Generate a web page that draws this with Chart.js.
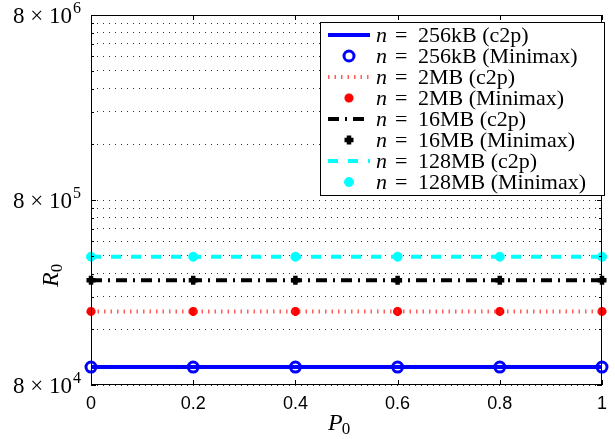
<!DOCTYPE html>
<html>
<head>
<meta charset="utf-8">
<script src="https://cdn.jsdelivr.net/npm/chart.js@4"></script>
<style>
  body { margin: 0; background: #fff; }
  #wrap { width: 615px; height: 439px; }
</style>
</head>
<body>
<div id="wrap"><canvas id="chart"></canvas></div>
<script>
// Data
const pValues = [0, 0.2, 0.4, 0.6, 0.8, 1];
const c2p256kB = [1.0e5, 1.0e5, 1.0e5, 1.0e5, 1.0e5, 1.0e5];
const minimax256kB = [1.0e5, 1.0e5, 1.0e5, 1.0e5, 1.0e5, 1.0e5];
const c2p2MB = [2.0e5, 2.0e5, 2.0e5, 2.0e5, 2.0e5, 2.0e5];
const minimax2MB = [2.0e5, 2.0e5, 2.0e5, 2.0e5, 2.0e5, 2.0e5];
const c2p16MB = [2.95e5, 2.95e5, 2.95e5, 2.95e5, 2.95e5, 2.95e5];
const minimax16MB = [2.95e5, 2.95e5, 2.95e5, 2.95e5, 2.95e5, 2.95e5];
const c2p128MB = [3.95e5, 3.95e5, 3.95e5, 3.95e5, 3.95e5, 3.95e5];
const minimax128MB = [3.95e5, 3.95e5, 3.95e5, 3.95e5, 3.95e5, 3.95e5];

const seriesLabels = ['256kB (c2p)', '256kB (Minimax)', '2MB (c2p)', '2MB (Minimax)',
                      '16MB (c2p)', '16MB (Minimax)', '128MB (c2p)', '128MB (Minimax)'];

// Axis ticks
const xTickValues = [0, 0.2, 0.4, 0.6, 0.8, 1];
const xTickLabels = ['0', '0.2', '0.4', '0.6', '0.8', '1'];
const yGridValues = [8e4, 1.6e5, 2.4e5, 3.2e5, 4e5, 4.8e5, 5.6e5, 6.4e5, 7.2e5,
                     8e5, 1.6e6, 2.4e6, 3.2e6, 4e6, 4.8e6, 5.6e6, 6.4e6, 7.2e6, 8e6];
const yLabelValues = [8e4, 8e5, 8e6];
const yLabelExponents = ['4', '5', '6'];

const SERIF = '"Liberation Serif", "DejaVu Serif", serif';
const SANS = '"Liberation Sans", Arial, sans-serif';

function points(ys) {
    return pValues.map((p, i) => ({ x: p, y: ys[i] }));
}

function lineSet(label, ys, color, width, dash) {
    return {
        label: label, data: points(ys), borderColor: color, backgroundColor: color,
        borderWidth: width, borderDash: dash, pointRadius: 0, showLine: true, clip: false
    };
}

function markSet(label, ys, style, color, fill, radius, width) {
    return {
        label: label, data: points(ys), showLine: false, pointStyle: style,
        pointRadius: radius, pointBorderWidth: width, pointBorderColor: color,
        pointBackgroundColor: fill, borderColor: color, backgroundColor: fill, clip: false
    };
}

const datasets = [
    lineSet(seriesLabels[0], c2p256kB, '#0000ff', 4, []),
    markSet(seriesLabels[1], minimax256kB, 'circle', '#0000ff', 'rgba(0,0,0,0)', 5, 3),
    lineSet(seriesLabels[2], c2p2MB, 'rgba(255,40,40,0.75)', 4, [1.5, 5]),
    markSet(seriesLabels[3], minimax2MB, 'star', '#ff0000', '#ff0000', 4.5, 3),
    lineSet(seriesLabels[4], c2p16MB, '#000000', 4, [11, 6, 2, 6]),
    markSet(seriesLabels[5], minimax16MB, 'cross', '#000000', '#000000', 4.5, 4.5),
    lineSet(seriesLabels[6], c2p128MB, '#00ffff', 4, [10, 10]),
    markSet(seriesLabels[7], minimax128MB, 'circle', '#00ffff', '#00ffff', 4.5, 1)
];

// Frame, inside tick marks, log tick labels, axis titles and legend
const decorations = {
    id: 'decorations',
    afterDraw(chart) {
        const ctx = chart.ctx;
        const a = chart.chartArea;
        const xs = chart.scales.x, ys = chart.scales.y;
        ctx.save();

        // frame
        ctx.strokeStyle = '#000';
        ctx.lineWidth = 1;
        ctx.setLineDash([]);
        ctx.strokeRect(a.left + 0.5, a.top + 0.5, a.right - a.left - 1, a.bottom - a.top - 1);

        // tick marks pointing inwards
        ctx.beginPath();
        xTickValues.forEach(v => {
            const px = Math.round(xs.getPixelForValue(v)) + 0.5;
            ctx.moveTo(px, a.bottom); ctx.lineTo(px, a.bottom - 5);
            ctx.moveTo(px, a.top); ctx.lineTo(px, a.top + 5);
        });
        yGridValues.forEach(v => {
            const py = Math.round(ys.getPixelForValue(v)) + 0.5;
            const len = yLabelValues.includes(v) ? 5 : 3;
            ctx.moveTo(a.left, py); ctx.lineTo(a.left + len, py);
            ctx.moveTo(a.right, py); ctx.lineTo(a.right - len, py);
        });
        ctx.stroke();

        // y tick labels: 8 x 10^k
        ctx.fillStyle = '#000';
        ctx.textBaseline = 'alphabetic';
        yLabelValues.forEach((v, i) => {
            const py = ys.getPixelForValue(v);
            ctx.font = '23px ' + SERIF;
            const main = '8 \u00d7 10';
            const wMain = ctx.measureText(main).width;
            ctx.font = '16px ' + SERIF;
            const wSup = ctx.measureText(yLabelExponents[i]).width;
            const right = a.left - 11;
            const x0 = right - wSup - wMain;
            ctx.font = '23px ' + SERIF;
            ctx.textAlign = 'left';
            ctx.fillText(main, x0, py + 8);
            ctx.font = '16px ' + SERIF;
            ctx.fillText(yLabelExponents[i], x0 + wMain + 1, py - 2);
        });

        // axis titles
        ctx.font = 'italic 24px ' + SERIF;
        ctx.textAlign = 'left';
        ctx.fillText('P', 328, 430);
        const wP = ctx.measureText('P').width;
        ctx.font = '17px ' + SERIF;
        ctx.fillText('0', 328 + wP - 1, 434);

        ctx.save();
        ctx.translate(58, 287);
        ctx.rotate(-Math.PI / 2);
        ctx.font = 'italic 24px ' + SERIF;
        ctx.fillText('R', 0, 0);
        const wR = ctx.measureText('R').width;
        ctx.font = '17px ' + SERIF;
        ctx.fillText('0', wR, 4);
        ctx.restore();

        // legend box
        const lx = 320, ly = 22, lw = 284, lh = 173;
        ctx.fillStyle = '#fff';
        ctx.fillRect(lx, ly, lw, lh);
        ctx.strokeStyle = '#000';
        ctx.lineWidth = 1;
        ctx.strokeRect(lx + 0.5, ly + 0.5, lw, lh);

        chart.data.datasets.forEach((ds, i) => {
            const cy = 35 + i * 21;
            if (ds.showLine) {
                ctx.beginPath();
                ctx.strokeStyle = ds.borderColor;
                ctx.lineWidth = ds.borderWidth;
                ctx.setLineDash(ds.borderDash);
                ctx.moveTo(328, cy); ctx.lineTo(370, cy);
                ctx.stroke();
                ctx.setLineDash([]);
            } else {
                ctx.fillStyle = ds.pointBackgroundColor;
                ctx.strokeStyle = ds.pointBorderColor;
                ctx.lineWidth = ds.pointBorderWidth;
                Chart.helpers.drawPoint(ctx, {
                    pointStyle: ds.pointStyle, radius: ds.pointRadius, rotation: 0,
                    borderWidth: ds.pointBorderWidth
                }, 349, cy);
            }
            ctx.fillStyle = '#000';
            ctx.textAlign = 'left';
            ctx.font = 'italic 22px ' + SERIF;
            ctx.fillText('n', 376, cy + 7);
            ctx.font = '22px ' + SERIF;
            ctx.fillText('=', 395, cy + 7);
            ctx.fillText(ds.label, 418, cy + 7);
        });

        ctx.restore();
    }
};

document.addEventListener('DOMContentLoaded', () => {
    const ctx = document.getElementById('chart').getContext('2d');
    new Chart(ctx, {
        type: 'scatter',
        data: { datasets: datasets },
        options: {
            responsive: true,
            maintainAspectRatio: false,
            animation: false,
            layout: { padding: { top: 15, right: 4, left: 0, bottom: 0 } },
            plugins: { legend: { display: false }, tooltip: { enabled: false } },
            scales: {
                x: {
                    type: 'linear',
                    min: 0,
                    max: 1,
                    afterBuildTicks: scale => { scale.ticks = xTickValues.map(v => ({ value: v })); },
                    afterFit: scale => { scale.height = 54; },
                    ticks: {
                        color: '#000',
                        font: { family: SANS, size: 18 },
                        padding: 8,
                        maxRotation: 0,
                        callback: (v, i) => xTickLabels[i]
                    },
                    grid: { display: false, drawTicks: false },
                    border: { display: false }
                },
                y: {
                    type: 'logarithmic',
                    min: 8e4,
                    max: 8e6,
                    afterBuildTicks: scale => { scale.ticks = yGridValues.map(v => ({ value: v })); },
                    afterFit: scale => { scale.width = 91; },
                    ticks: { display: false },
                    grid: { color: '#333', lineWidth: 1, drawTicks: false },
                    border: { display: false, dash: [1, 5] }
                }
            }
        },
        plugins: [decorations]
    });
});
</script>
</body>
</html>
